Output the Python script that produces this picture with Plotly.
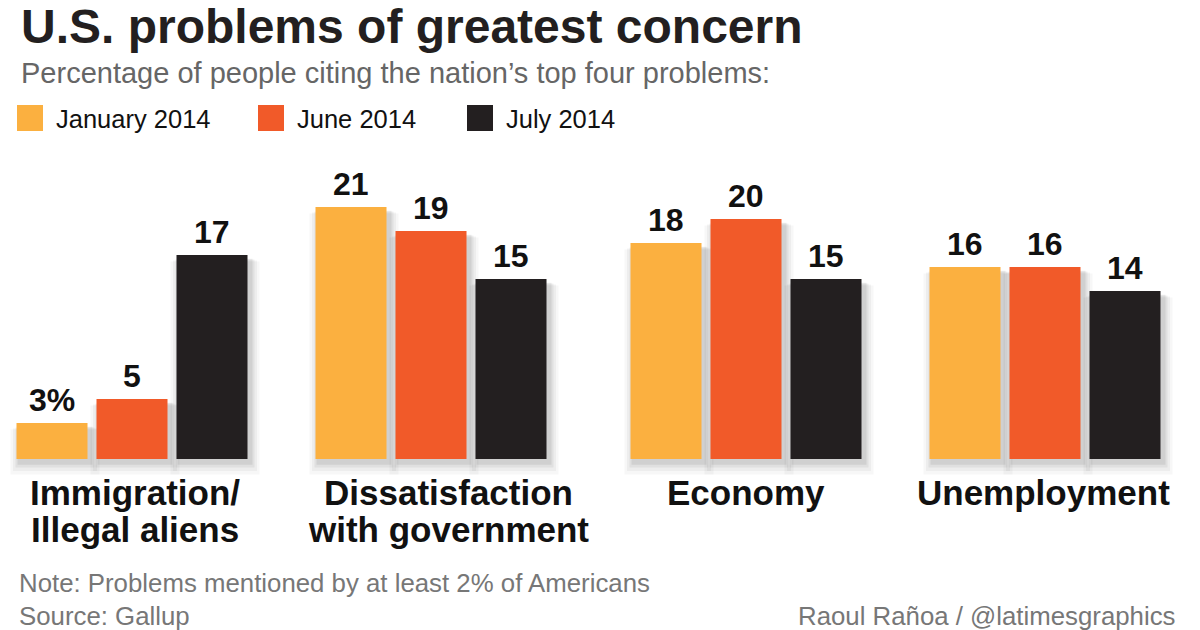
import plotly.graph_objects as go

categories = [["Immigration/", "Illegal aliens"], ["Dissatisfaction", "with government"], ["Economy"], ["Unemployment"]]
series_names = ["January 2014", "June 2014", "July 2014"]
jan_2014 = [3, 21, 18, 16]
jun_2014 = [5, 19, 20, 16]
jul_2014 = [17, 15, 15, 14]

# layout (axis units equal screen pixels; page body has an 8px margin)
PAGE_OFF = 8
FIG_W, FIG_H = 1200 - PAGE_OFF, 630 - PAGE_OFF
BASE_Y = 459          # screen y of the bar baseline
PX_PER_UNIT = 12
group_centers = [132, 431, 746, 1045]
series_offsets = [-80, 0, 80]
bar_width = 71
label_xshift = [3, 17, 0, -2]
colors = ["#FBB040", "#F15A29", "#231F20"]
FONT = "Liberation Sans, Arial, Helvetica, sans-serif"

values = [jan_2014, jun_2014, jul_2014]


def py(screen_y):
    return 1 - (screen_y - PAGE_OFF) / FIG_H


ymax = (BASE_Y - PAGE_OFF) / PX_PER_UNIT
ymin = ymax - FIG_H / PX_PER_UNIT

fig = go.Figure()

# soft drop shadows
for grow, alpha in [(18, 0.03), (13, 0.04), (8, 0.055), (4, 0.07)]:
    for s, vals in enumerate(values):
        xs = [c + series_offsets[s] + 3 for c in group_centers]
        fig.add_trace(go.Bar(
            x=xs, y=[v + grow / PX_PER_UNIT * 0.5 for v in vals],
            base=[-(grow * 0.7 + 3) / PX_PER_UNIT] * len(vals),
            width=bar_width + grow, marker=dict(color=f"rgba(0,0,0,{alpha})", line=dict(width=0)),
            showlegend=False, hoverinfo="skip"))

for s, vals in enumerate(values):
    xs = [c + series_offsets[s] for c in group_centers]
    fig.add_trace(go.Bar(
        x=xs, y=vals, width=bar_width, name=series_names[s],
        marker=dict(color=colors[s], line=dict(width=0)), showlegend=False))
    for i, (x, v) in enumerate(zip(xs, vals)):
        txt = f"{v}%" if (s == 0 and i == 0) else f"{v}"
        fig.add_annotation(x=x, y=v, text=f"<b>{txt}</b>", showarrow=False,
                           yanchor="bottom", yshift=3,
                           font=dict(family=FONT, size=32, color="#111111"))

# category labels (one annotation per line for tight leading)
line_centers = [492, 529]
for i, lines in enumerate(categories):
    for j, ln in enumerate(lines):
        fig.add_annotation(x=group_centers[i], yref="paper", y=py(line_centers[j]),
                           text=f"<b>{ln}</b>", showarrow=False,
                           xshift=label_xshift[i], yanchor="middle",
                           font=dict(family=FONT, size=35, color="#111111"))

# title / subtitle
fig.add_annotation(x=19, yref="paper", y=py(26), xanchor="left", yanchor="middle",
                   showarrow=False, text="<b>U.S. problems of greatest concern</b>",
                   font=dict(family=FONT, size=48, color="#231F20"))
fig.add_annotation(x=19, yref="paper", y=py(73), xanchor="left", yanchor="middle",
                   showarrow=False,
                   text="Percentage of people citing the nation’s top four problems:",
                   font=dict(family=FONT, size=29, color="#666666"))

# legend
legend_x = [17, 258, 467]
for s, name in enumerate(series_names):
    fig.add_shape(type="rect", xref="x", yref="paper",
                  x0=legend_x[s], x1=legend_x[s] + 26,
                  y0=py(131), y1=py(105),
                  fillcolor=colors[s], line=dict(width=0))
    fig.add_annotation(x=legend_x[s] + 37, yref="paper", y=py(119),
                       xanchor="left", yanchor="middle", showarrow=False, text=name,
                       font=dict(family=FONT, size=25.5, color="#111111"))

# footer
fig.add_annotation(x=17, yref="paper", y=py(583), xanchor="left", yanchor="middle",
                   showarrow=False, text="Note: Problems mentioned by at least 2% of Americans",
                   font=dict(family=FONT, size=25.8, color="#777777"))
fig.add_annotation(x=17, yref="paper", y=py(616), xanchor="left", yanchor="middle",
                   showarrow=False, text="Source: Gallup",
                   font=dict(family=FONT, size=25.8, color="#777777"))
fig.add_annotation(x=1178, yref="paper", y=py(616), xanchor="right", yanchor="middle",
                   showarrow=False, text="Raoul Rañoa / @latimesgraphics",
                   font=dict(family=FONT, size=25.8, color="#777777"))

fig.update_layout(
    width=FIG_W, height=FIG_H, barmode="overlay",
    margin=dict(l=0, r=0, t=0, b=0),
    paper_bgcolor="white", plot_bgcolor="white",
    xaxis=dict(range=[PAGE_OFF, 1200], visible=False, fixedrange=True),
    yaxis=dict(range=[ymin, ymax], visible=False, fixedrange=True),
    showlegend=False,
)

fig.write_html("out.html")
